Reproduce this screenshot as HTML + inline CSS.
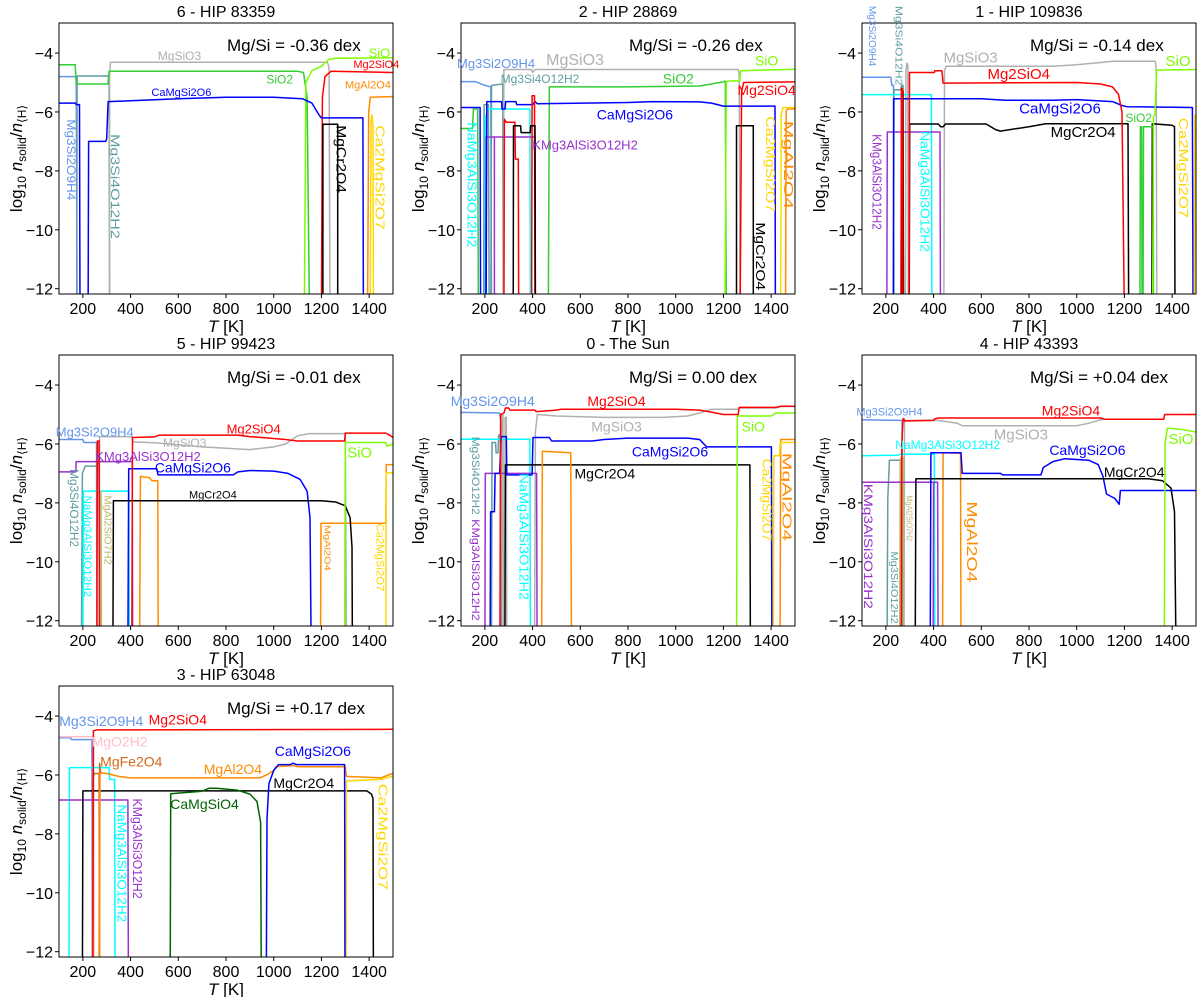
<!DOCTYPE html>
<html><head><meta charset="utf-8"><style>
body{margin:0;background:#fff;}
svg{display:block;font-family:"Liberation Sans","DejaVu Sans",sans-serif;}
</style></head><body>
<svg id="fig" width="1200" height="997" viewBox="0 0 1200 997" xmlns="http://www.w3.org/2000/svg"></svg>
<script>
const xTicks=[200,400,600,800,1000,1200,1400];
const yTicks=[-4,-6,-8,-10,-12];
const C={MS2:"#6495ED",MS4:"#5F9EA0",MSO3:"#b0b0b0",SIO2:"#32CD32",SIO:"#7CFC00",M2S:"#ff0000",CMS:"#0000ff",MCR:"#000000",MAL:"#FF8C00",CA2:"#FFD700",NA:"#00ffff",K:"#9932CC",MASH:"#BDB76B",MOH:"#FFC0CB",MFE:"#D2691E",CMSO4:"#006400"};

// ---- panel 6 - HIP 83359
const p6_MgSiO3=[[312,-13],[312,-4.78],[316,-4.31],[1225,-4.31],[1232,-4.5],[1236,-13]];
const p6_Mg3Si2O9H4=[[100,-4.8],[172,-4.8],[176,-13]];
const p6_Mg3Si4O12H2=[[174,-13],[176,-4.78],[310,-4.78],[312,-13]];
const p6_SiO2=[[100,-4.4],[168,-4.4],[172,-5.05],[305,-5.05],[310,-4.62],[1100,-4.62],[1125,-4.66],[1140,-5.5],[1150,-13]];
const p6_SiO=[[1128,-13],[1135,-5.0],[1160,-4.6],[1200,-4.45],[1230,-4.22],[1260,-4.18],[1500,-4.16]];
const p6_Mg2SiO4=[[1200,-13],[1204,-5.5],[1215,-4.8],[1240,-4.62],[1500,-4.66]];
const p6_CaMgSi2O6=[[100,-5.7],[170,-5.7],[172,-5.75],[186,-5.75],[188,-13],null,[222,-13],[224,-7.0],[296,-7.0],[300,-6.9],[306,-5.65],[400,-5.62],[600,-5.55],[800,-5.5],[1000,-5.5],[1120,-5.55],[1160,-5.7],[1190,-6.1],[1200,-6.2],[1374,-6.2],[1376,-13]];
const p6_MgCr2O4=[[1206,-13],[1206,-6.42],[1268,-6.42],[1268,-13]];
const p6_MgAl2O4=[[1393,-13],[1398,-6.0],[1405,-5.5],[1500,-5.48]];
const p6_Ca2MgSi2O7=[[1404,-13],[1408,-6.3],[1412,-6.1],[1416,-6.5],[1418,-13]];
const p6_labels=[["MgSiO3",C.MSO3,605,-4.1,12],["SiO",C.SIO,1443,-4.0,13],["Mg2SiO4",C.M2S,1430,-4.4,11],["SiO2",C.SIO2,1025,-4.9,12],["CaMgSi2O6",C.CMS,613,-5.35,11],["MgAl2O4",C.MAL,1395,-5.1,11]];
const p6_rlabels=[["Mg3Si2O9H4",C.MS2,148,-6.25,-9.0,13],["Mg3Si4O12H2",C.MS4,333,-6.75,-10.3,13],["MgCr2O4",C.MCR,1283,-6.45,-8.75,15],["Ca2MgSi2O7",C.CA2,1443,-6.45,-10.0,14]];

// ---- panel 2 - HIP 28869
const p2_Mg3Si2O9H4=[[100,-4.97],[160,-4.97],[200,-5.1],[225,-5.15],[228,-13]];
const p2_Mg3Si4O12H2=[[195,-13],[197,-5.75],[215,-5.75],[218,-13],null,[225,-13],[228,-5.1],[275,-5.05],[277,-13]];
const p2_MgSiO3=[[277,-13],[280,-4.56],[395,-4.56],[400,-4.65],[410,-4.56],[1262,-4.56],[1266,-4.7],[1270,-13]];
const p2_SiO2=[[100,-6.56],[148,-6.56],[152,-5.9],[170,-5.9],[173,-13],null,[466,-13],[470,-5.15],[800,-5.15],[1100,-5.12],[1200,-4.98],[1208,-4.95],[1212,-13]];
const p2_SiO=[[1206,-13],[1212,-5.0],[1220,-4.95],[1268,-4.95],[1272,-4.6],[1500,-4.55]];
const p2_Mg2SiO4=[[280,-13],[282,-6.25],[290,-6.35],[326,-6.35],[328,-7.6],[340,-7.6],[342,-13],null,[396,-13],[398,-5.45],[408,-5.45],[410,-13],null,[1270,-13],[1276,-5.3],[1285,-5.0],[1500,-4.98]];
const p2_CaMgSi2O6=[[100,-5.85],[180,-5.85],[182,-13],null,[205,-13],[208,-5.65],[270,-5.65],[272,-5.9],[285,-5.9],[287,-5.65],[330,-5.65],[333,-5.75],[400,-5.75],[410,-5.65],[420,-5.72],[800,-5.68],[900,-5.65],[1100,-5.66],[1150,-5.7],[1200,-5.8],[1416,-5.8],[1418,-13]];
const p2_NaMg=[[200,-13],[202,-6.2],[212,-5.9],[389,-5.9],[391,-13]];
const p2_KMg=[[203,-13],[205,-6.85],[410,-6.85],[412,-13],null,[240,-13],[240,-6.85]];
const p2_MgCr2O4=[[319,-13],[320,-6.47],[350,-6.47],[352,-6.7],[390,-6.7],[392,-6.47],[410,-6.47],[412,-13],null,[1255,-13],[1255,-6.47],[1325,-6.47],[1325,-13]];
const p2_Ca2MgSi2O7=[[1440,-13],[1442,-6.1],[1450,-5.85],[1500,-5.85]];
const p2_MgAl2O4=[[1460,-13],[1463,-5.95],[1470,-5.9],[1500,-5.9]];
const p2_labels=[["Mg3Si2O9H4",C.MS2,247,-4.36,13],["MgSiO3",C.MSO3,578,-4.25,16],["Mg3Si4O12H2",C.MS4,431,-4.88,12],["SiO2",C.SIO2,1011,-4.87,14],["SiO",C.SIO,1381,-4.25,14],["Mg2SiO4",C.M2S,1381,-5.25,14],["CaMgSi2O6",C.CMS,829,-6.08,14],["KMg3AlSi3O12H2",C.K,620,-7.13,13]];
const p2_rlabels=[["NaMg3AlSi3O12H2",C.NA,145,-6.35,-10.6,14],["MgCr2O4",C.MCR,1353,-9.75,-12.05,14],["Ca2MgSi2O7",C.CA2,1395,-6.15,-9.4,14],["MgAl2O4",C.MAL,1471,-6.3,-9.3,14]];

// ---- panel 1 - HIP 109836
const p1_Mg3Si2O9H4=[[100,-4.82],[221,-4.82],[225,-5.1],[232,-5.1],[234,-13]];
const p1_Mg3Si4O12H2=[[232,-13],[234,-5.25],[262,-5.25],[266,-5.1],[272,-5.1],[274,-13]];
const p1_MgSiO3=[[282,-13],[284,-4.6],[288,-4.34],[292,-4.4],[294,-13],null,[443,-13],[446,-4.6],[452,-4.45],[900,-4.45],[1000,-4.4],[1100,-4.32],[1150,-4.28],[1330,-4.28],[1333,-4.6],[1336,-13]];
const p1_Mg2SiO4=[[263,-13],[265,-5.2],[270,-5.2],[272,-13],null,[297,-13],[299,-4.66],[403,-4.66],[405,-4.6],[435,-4.6],[440,-5.02],[1000,-5.0],[1100,-5.05],[1150,-5.15],[1175,-5.4],[1190,-6.0],[1200,-13]];
const p1_CaMgSi2O6=[[231,-13],[233,-5.55],[600,-5.55],[700,-5.6],[900,-5.6],[1000,-5.58],[1150,-5.65],[1190,-5.78],[1210,-5.82],[1485,-5.85],[1488,-13]];
const p1_MgCr2O4=[[268,-13],[268,-5.3],[272,-5.3],[274,-13],null,[298,-13],[300,-6.41],[420,-6.41],[430,-6.5],[440,-6.5],[450,-6.41],[620,-6.41],[660,-6.6],[680,-6.65],[800,-6.5],[870,-6.4],[1215,-6.4],[1218,-13],null,[1315,-13],[1317,-6.4],[1400,-6.45],[1410,-6.5],[1412,-13]];
const p1_SiO2=[[1265,-13],[1267,-6.5],[1272,-6.5],[1274,-13],null,[1278,-13],[1280,-6.5],[1320,-6.5],[1322,-13]];
const p1_SiO=[[1318,-13],[1322,-6.15],[1328,-6.1],[1335,-4.58],[1500,-4.56]];
const p1_Ca2MgSi2O7=[[1493,-13],[1495,-6.1],[1500,-6.1]];
const p1_NaMg=[[100,-5.41],[391,-5.41],[393,-13]];
const p1_KMg=[[204,-13],[206,-6.68],[427,-6.68],[429,-13]];
const p1_labels=[["MgSiO3",C.MSO3,555,-4.17,15],["Mg2SiO4",C.M2S,757,-4.72,15],["CaMgSi2O6",C.CMS,930,-5.9,15],["MgCr2O4",C.MCR,1027,-6.7,15],["SiO2",C.SIO2,1260,-6.2,12],["SiO",C.SIO,1425,-4.28,15]];
const p1_rlabels=[["Mg3Si2O9H4",C.MS2,140,-2.4,-4.45,11],["Mg3Si4O12H2",C.MS4,250,-2.4,-5.1,11],["KMg3AlSi3O12H2",C.K,160,-6.75,-10.0,14],["NaMg3AlSi3O12H2",C.NA,361,-6.65,-10.75,14],["Ca2MgSi2O7",C.CA2,1445,-6.2,-9.6,14]];

// ---- panel 5 - HIP 99423
const p5_Mg3Si2O9H4=[[100,-5.85],[200,-5.85],[205,-5.95],[257,-5.95],[259,-13]];
const p5_Mg2SiO4=[[259,-13],[261,-5.9],[268,-5.9],[270,-13],null,[405,-13],[408,-5.78],[500,-5.76],[520,-5.7],[850,-5.7],[900,-5.75],[1050,-5.85],[1100,-5.9],[1297,-5.9],[1300,-5.63],[1470,-5.63],[1490,-5.72],[1500,-5.78]];
const p5_MgSiO3=[[268,-13],[270,-5.75],[405,-5.75],[410,-5.93],[500,-5.96],[700,-6.1],[900,-6.19],[1000,-6.1],[1050,-6.0],[1100,-5.72],[1150,-5.65],[1300,-5.65],[1305,-13]];
const p5_SiO=[[1297,-13],[1300,-5.95],[1470,-5.95],[1475,-6.08],[1500,-6.0]];
const p5_CaMgSi2O6=[[389,-13],[392,-6.84],[510,-6.84],[515,-7.05],[830,-7.05],[850,-6.95],[900,-6.9],[1000,-6.92],[1060,-7.0],[1110,-7.2],[1140,-7.6],[1152,-8.5],[1157,-13]];
const p5_MgCr2O4=[[326,-13],[328,-7.93],[1200,-7.93],[1260,-7.97],[1300,-8.1],[1320,-8.5],[1328,-9.5],[1330,-13]];
const p5_KMg=[[100,-6.95],[170,-6.95],[172,-6.6],[407,-6.6],[409,-13]];
const p5_Mg3Si4O12H2=[[194,-13],[198,-7.0],[210,-6.75],[258,-6.75],[262,-6.4],[268,-6.4],[270,-13]];
const p5_NaMg=[[200,-13],[202,-7.6],[393,-7.6],[395,-13]];
const p5_MgAl2SiO7H2=[[268,-13],[270,-7.6],[276,-7.6],[278,-13]];
const p5_MgAl2O4=[[438,-13],[441,-7.1],[480,-7.15],[490,-7.25],[514,-7.25],[516,-13],null,[1196,-13],[1198,-8.69],[1470,-8.69],[1472,-6.7],[1500,-6.7]];
const p5_Ca2MgSi2O7=[[1470,-13],[1472,-6.98],[1500,-6.98]];
const p5_labels=[["Mg3Si2O9H4",C.MS2,250,-5.6,13],["Mg2SiO4",C.M2S,916,-5.5,13],["MgSiO3",C.MSO3,627,-5.97,12],["SiO",C.SIO,1360,-6.3,15],["KMg3AlSi3O12H2",C.K,473,-6.42,13],["CaMgSi2O6",C.CMS,661,-6.8,14],["MgCr2O4",C.MCR,745,-7.75,11]];
const p5_rlabels=[["Mg3Si4O12H2",C.MS4,161,-6.85,-9.5,13],["NaMg3AlSi3O12H2",C.NA,217,-7.75,-11.2,12],["MgAl2SiO7H2",C.MASH,301,-7.75,-10.1,11],["MgAl2O4",C.MAL,1224,-8.75,-10.3,9],["Ca2MgSi2O7",C.CA2,1443,-8.7,-11.0,12]];

// ---- panel 0 - The Sun
const p0_Mg3Si2O9H4=[[100,-4.93],[262,-4.95],[268,-5.3],[270,-13]];
const p0_Mg2SiO4=[[263,-13],[266,-5.0],[280,-4.95],[286,-4.78],[300,-4.78],[305,-4.85],[410,-4.85],[415,-4.9],[500,-4.85],[520,-4.82],[1000,-4.82],[1100,-4.85],[1150,-4.92],[1200,-5.0],[1262,-5.0],[1266,-4.76],[1420,-4.76],[1440,-4.72],[1500,-4.72]];
const p0_MgSiO3=[[270,-13],[272,-5.0],[276,-5.0],[278,-13],null,[283,-13],[285,-5.1],[290,-5.1],[292,-13],null,[408,-13],[412,-5.6],[420,-5.0],[500,-5.05],[700,-5.1],[950,-5.1],[1050,-5.05],[1100,-4.95],[1150,-4.82],[1262,-4.82],[1266,-4.78],[1420,-4.78],[1440,-4.73],[1500,-4.73]];
const p0_SiO=[[1255,-13],[1258,-5.05],[1400,-5.05],[1420,-4.95],[1500,-4.95]];
const p0_CaMgSi2O6=[[222,-13],[224,-8.3],[240,-8.3],[243,-7.0],[262,-7.0],[268,-5.75],[290,-5.75],[292,-7.05],[398,-7.05],[402,-5.78],[470,-5.78],[480,-5.9],[650,-5.9],[700,-5.85],[800,-5.8],[1050,-5.8],[1100,-5.85],[1130,-6.1],[1401,-6.1],[1403,-13]];
const p0_MgCr2O4=[[284,-13],[286,-6.71],[1311,-6.71],[1313,-13]];
const p0_NaMg=[[100,-5.84],[389,-5.84],[391,-13]];
const p0_KMg=[[200,-13],[202,-7.0],[417,-7.0],[419,-13]];
const p0_Mg3Si4O12H2=[[228,-13],[230,-5.95],[245,-5.95],[247,-6.3],[255,-6.3],[258,-5.7],[265,-5.7],[268,-13]];
const p0_MgAl2O4=[[438,-13],[441,-6.25],[560,-6.3],[563,-13],null,[1437,-13],[1440,-5.85],[1500,-5.85]];
const p0_Ca2MgSi2O7=[[1409,-13],[1411,-6.4],[1435,-6.4],[1438,-5.95],[1500,-5.95]];
const p0_labels=[["Mg3Si2O9H4",C.MS2,233,-4.55,14],["Mg2SiO4",C.M2S,752,-4.55,14],["MgSiO3",C.MSO3,752,-5.4,14],["SiO",C.SIO,1325,-5.4,14],["CaMgSi2O6",C.CMS,976,-6.25,14],["MgCr2O4",C.MCR,703,-7.0,14]];
const p0_rlabels=[["Mg3Si4O12H2",C.MS4,159,-5.75,-8.4,12],["KMg3AlSi3O12H2",C.K,159,-8.55,-12.0,12],["NaMg3AlSi3O12H2",C.NA,361,-7.0,-11.3,14],["Ca2MgSi2O7",C.CA2,1381,-6.5,-9.3,14],["MgAl2O4",C.MAL,1465,-6.3,-9.3,14]];

// ---- panel 4 - HIP 43393
const p4_Mg3Si2O9H4=[[100,-5.18],[268,-5.2],[270,-13]];
const p4_Mg2SiO4=[[265,-13],[267,-6.0],[272,-5.15],[276,-5.15],[278,-5.22],[400,-5.2],[405,-5.15],[420,-5.12],[1100,-5.12],[1115,-5.16],[1365,-5.16],[1369,-5.0],[1500,-5.0]];
const p4_MgSiO3=[[276,-13],[278,-5.2],[400,-5.2],[420,-5.2],[500,-5.3],[520,-5.38],[1000,-5.38],[1050,-5.3],[1100,-5.18],[1115,-5.16]];
const p4_SiO=[[1367,-13],[1370,-6.0],[1380,-5.46],[1450,-5.52],[1500,-5.6]];
const p4_NaMg=[[100,-6.4],[250,-6.38],[260,-6.35],[403,-6.35],[405,-13]];
const p4_CaMgSi2O6=[[386,-13],[389,-6.3],[515,-6.3],[520,-7.0],[680,-7.0],[690,-7.05],[850,-7.05],[860,-6.8],[900,-6.6],[950,-6.5],[1050,-6.55],[1090,-6.7],[1110,-7.1],[1125,-7.7],[1160,-7.85],[1178,-8.05],[1183,-7.58],[1500,-7.58]];
const p4_MgCr2O4=[[323,-13],[326,-7.18],[1300,-7.18],[1360,-7.25],[1395,-7.5],[1410,-8.3],[1416,-13]];
const p4_KMg=[[100,-7.3],[417,-7.3],[419,-13],null,[398,-13],[400,-7.3]];
const p4_Mg3Si4O12H2=[[205,-13],[208,-7.85],[215,-6.55],[260,-6.55],[262,-13]];
const p4_MgAl2SiO7H2=[[258,-13],[260,-6.5],[272,-6.45],[274,-13]];
const p4_MgAl2O4=[[438,-13],[440,-6.3],[513,-6.32],[515,-13]];
const p4_labels=[["Mg3Si2O9H4",C.MS2,215,-4.93,11],["Mg2SiO4",C.M2S,976,-4.87,14],["MgSiO3",C.MSO3,766,-5.7,15],["SiO",C.SIO,1437,-5.85,15],["NaMg3AlSi3O12H2",C.NA,459,-6.03,12],["CaMgSi2O6",C.CMS,1045,-6.2,14],["MgCr2O4",C.MCR,1241,-6.95,14]];
const p4_rlabels=[["KMg3AlSi3O12H2",C.K,124,-7.35,-11.6,13],["Mg3Si4O12H2",C.MS4,233,-9.65,-12.1,11],["MgAl2SiO7H2",C.MASH,298,-7.75,-9.3,9],["MgAl2O4",C.MAL,557,-7.95,-10.7,16]];

// ---- panel 3 - HIP 63048
const p3_Mg3Si2O9H4=[[100,-4.74],[150,-4.74],[152,-4.8],[238,-4.8],[240,-13]];
const p3_MgO2H2=[[100,-4.7],[245,-4.7],[247,-13]];
const p3_Mg2SiO4=[[242,-13],[244,-4.5],[260,-4.47],[1500,-4.45]];
const p3_MgFe2O4=[[240,-13],[242,-6.15],[248,-5.95],[268,-5.95],[270,-13],null,[268,-13],[270,-5.6],[275,-5.95]];
const p3_MgAl2O4=[[270,-13],[272,-5.92],[300,-5.95],[350,-6.05],[400,-6.1],[940,-6.1],[970,-6.0],[1000,-5.85],[1010,-5.72],[1080,-5.68],[1100,-5.72],[1300,-5.72],[1305,-6.05],[1450,-6.1],[1480,-6.0],[1500,-5.95]];
const p3_Ca2MgSi2O7=[[1303,-13],[1305,-6.2],[1450,-6.15],[1480,-6.08],[1500,-6.05]];
const p3_CaMgSi2O6=[[969,-13],[972,-7.5],[980,-6.3],[1000,-5.85],[1020,-5.65],[1070,-5.65],[1080,-5.6],[1095,-5.65],[1297,-5.65],[1299,-13]];
const p3_CaMgSiO4=[[566,-13],[568,-6.64],[700,-6.55],[730,-6.45],[760,-6.45],[850,-6.52],[900,-6.65],[930,-6.9],[945,-7.6],[948,-13]];
const p3_MgCr2O4=[[198,-13],[200,-6.54],[1390,-6.54],[1410,-6.65],[1416,-6.8],[1418,-13]];
const p3_NaMg=[[142,-13],[144,-5.75],[310,-5.75],[312,-6.15],[333,-6.15],[335,-13]];
const p3_KMg=[[100,-6.85],[389,-6.85],[391,-13]];
const p3_labels=[["Mg3Si2O9H4",C.MS2,277,-4.16,14],["Mg2SiO4",C.M2S,598,-4.11,14],["MgO2H2",C.MOH,354,-4.87,14],["MgFe2O4",C.MFE,403,-5.55,14],["MgAl2O4",C.MAL,829,-5.8,14],["CaMgSi2O6",C.CMS,1164,-5.18,14],["MgCr2O4",C.MCR,1126,-6.28,14],["CaMgSiO4",C.CMSO4,710,-6.98,14]];
const p3_rlabels=[["NaMg3AlSi3O12H2",C.NA,361,-7.0,-11.0,14],["KMg3AlSi3O12H2",C.K,427,-6.8,-10.2,14],["Ca2MgSi2O7",C.CA2,1457,-6.3,-9.9,14]];

const panels=[
 {id:"hip-83359",title:"6 - HIP 83359",ratio:"Mg/Si = -0.36 dex",col:0,row:0,labels:p6_labels,rlabels:p6_rlabels,series:[
  ["mg3si2o9h4",C.MS2,p6_Mg3Si2O9H4],["mg3si4o12h2",C.MS4,p6_Mg3Si4O12H2],["mgsio3",C.MSO3,p6_MgSiO3],["sio2",C.SIO2,p6_SiO2],["sio",C.SIO,p6_SiO],["mg2sio4",C.M2S,p6_Mg2SiO4],["camgsi2o6",C.CMS,p6_CaMgSi2O6],["mgcr2o4",C.MCR,p6_MgCr2O4],["mgal2o4",C.MAL,p6_MgAl2O4],["ca2mgsi2o7",C.CA2,p6_Ca2MgSi2O7]]},
 {id:"hip-28869",title:"2 - HIP 28869",ratio:"Mg/Si = -0.26 dex",col:1,row:0,labels:p2_labels,rlabels:p2_rlabels,series:[
  ["mg3si2o9h4",C.MS2,p2_Mg3Si2O9H4],["mg3si4o12h2",C.MS4,p2_Mg3Si4O12H2],["mgsio3",C.MSO3,p2_MgSiO3],["sio2",C.SIO2,p2_SiO2],["sio",C.SIO,p2_SiO],["na-mg3alsi3o12h2",C.NA,p2_NaMg],["k-mg3alsi3o12h2",C.K,p2_KMg],["camgsi2o6",C.CMS,p2_CaMgSi2O6],["mg2sio4",C.M2S,p2_Mg2SiO4],["mgcr2o4",C.MCR,p2_MgCr2O4],["ca2mgsi2o7",C.CA2,p2_Ca2MgSi2O7],["mgal2o4",C.MAL,p2_MgAl2O4]]},
 {id:"hip-109836",title:"1 - HIP 109836",ratio:"Mg/Si = -0.14 dex",col:2,row:0,labels:p1_labels,rlabels:p1_rlabels,series:[
  ["mg3si2o9h4",C.MS2,p1_Mg3Si2O9H4],["mg3si4o12h2",C.MS4,p1_Mg3Si4O12H2],["mgsio3",C.MSO3,p1_MgSiO3],["na-mg3alsi3o12h2",C.NA,p1_NaMg],["k-mg3alsi3o12h2",C.K,p1_KMg],["camgsi2o6",C.CMS,p1_CaMgSi2O6],["mgcr2o4",C.MCR,p1_MgCr2O4],["mg2sio4",C.M2S,p1_Mg2SiO4],["sio2",C.SIO2,p1_SiO2],["sio",C.SIO,p1_SiO],["ca2mgsi2o7",C.CA2,p1_Ca2MgSi2O7]]},
 {id:"hip-99423",title:"5 - HIP 99423",ratio:"Mg/Si = -0.01 dex",col:0,row:1,labels:p5_labels,rlabels:p5_rlabels,series:[
  ["mg3si2o9h4",C.MS2,p5_Mg3Si2O9H4],["mgsio3",C.MSO3,p5_MgSiO3],["mg3si4o12h2",C.MS4,p5_Mg3Si4O12H2],["na-mg3alsi3o12h2",C.NA,p5_NaMg],["mgal2sio7h2",C.MASH,p5_MgAl2SiO7H2],["k-mg3alsi3o12h2",C.K,p5_KMg],["mgal2o4",C.MAL,p5_MgAl2O4],["camgsi2o6",C.CMS,p5_CaMgSi2O6],["mgcr2o4",C.MCR,p5_MgCr2O4],["sio",C.SIO,p5_SiO],["ca2mgsi2o7",C.CA2,p5_Ca2MgSi2O7],["mg2sio4",C.M2S,p5_Mg2SiO4]]},
 {id:"the-sun",title:"0 - The Sun",ratio:"Mg/Si = 0.00 dex",col:1,row:1,labels:p0_labels,rlabels:p0_rlabels,series:[
  ["mg3si2o9h4",C.MS2,p0_Mg3Si2O9H4],["mgsio3",C.MSO3,p0_MgSiO3],["mg3si4o12h2",C.MS4,p0_Mg3Si4O12H2],["na-mg3alsi3o12h2",C.NA,p0_NaMg],["k-mg3alsi3o12h2",C.K,p0_KMg],["camgsi2o6",C.CMS,p0_CaMgSi2O6],["mgcr2o4",C.MCR,p0_MgCr2O4],["mgal2o4",C.MAL,p0_MgAl2O4],["sio",C.SIO,p0_SiO],["ca2mgsi2o7",C.CA2,p0_Ca2MgSi2O7],["mg2sio4",C.M2S,p0_Mg2SiO4]]},
 {id:"hip-43393",title:"4 - HIP 43393",ratio:"Mg/Si = +0.04 dex",col:2,row:1,labels:p4_labels,rlabels:p4_rlabels,series:[
  ["mg3si2o9h4",C.MS2,p4_Mg3Si2O9H4],["mgsio3",C.MSO3,p4_MgSiO3],["mg3si4o12h2",C.MS4,p4_Mg3Si4O12H2],["mgal2sio7h2",C.MASH,p4_MgAl2SiO7H2],["na-mg3alsi3o12h2",C.NA,p4_NaMg],["k-mg3alsi3o12h2",C.K,p4_KMg],["mgal2o4",C.MAL,p4_MgAl2O4],["camgsi2o6",C.CMS,p4_CaMgSi2O6],["mgcr2o4",C.MCR,p4_MgCr2O4],["sio",C.SIO,p4_SiO],["mg2sio4",C.M2S,p4_Mg2SiO4]]},
 {id:"hip-63048",title:"3 - HIP 63048",ratio:"Mg/Si = +0.17 dex",col:0,row:2,labels:p3_labels,rlabels:p3_rlabels,series:[
  ["mg3si2o9h4",C.MS2,p3_Mg3Si2O9H4],["mgo2h2",C.MOH,p3_MgO2H2],["na-mg3alsi3o12h2",C.NA,p3_NaMg],["k-mg3alsi3o12h2",C.K,p3_KMg],["mgcr2o4",C.MCR,p3_MgCr2O4],["mgfe2o4",C.MFE,p3_MgFe2O4],["camgsio4",C.CMSO4,p3_CaMgSiO4],["ca2mgsi2o7",C.CA2,p3_Ca2MgSi2O7],["mgal2o4",C.MAL,p3_MgAl2O4],["camgsi2o6",C.CMS,p3_CaMgSi2O6],["mg2sio4",C.M2S,p3_Mg2SiO4]]}
];

const NS="http://www.w3.org/2000/svg";
const svg=document.getElementById('fig');
const COLX=[59,461,862], ROWY=[23,355,686], W=334, H=271, XMIN=100, XMAX=1500, YMAX=-2.98, YMIN=-12.18;
function mk(tag,attrs,parent){const e=document.createElementNS(NS,tag);for(const k in attrs)e.setAttribute(k,attrs[k]);(parent||svg).appendChild(e);return e;}

panels.forEach((p,pi)=>{
  const x0=COLX[p.col], y0=ROWY[p.row];
  const sx=T=>x0+(T-XMIN)/(XMAX-XMIN)*W;
  const sy=v=>y0+(YMAX-v)/(YMAX-YMIN)*H;
  const g=mk('g',{});
  
  
  const cp=mk('clipPath',{id:'clip'+pi},g);
  mk('rect',{x:x0,y:y0,width:W,height:H},cp);
  const sg=mk('g',{'clip-path':'url(#clip'+pi+')'},g);
  
  
  p.series.forEach(s=>{
    let d='',start=true;
    s[2].forEach(pt=>{ if(pt===null){start=true;return;} d+=(start?'M':'L')+sx(pt[0]).toFixed(1)+','+sy(pt[1]).toFixed(1); start=false; });
    const path=mk('path',{d:d,fill:'none',stroke:s[1],'stroke-width':1.5,'stroke-linejoin':'round'},sg);
    
    
  });
  const fr=mk('rect',{x:x0,y:y0,width:W,height:H,fill:'none',stroke:'#000','stroke-width':1},g);
  
  
  xTicks.forEach(t=>{
    const x=sx(t);
    mk('line',{x1:x,y1:y0+H,x2:x,y2:y0+H+4,stroke:'#000','stroke-width':1},g);
    const tl=mk('text',{x:x,y:y0+H+20,'font-size':16,'text-anchor':'middle',fill:'#000'},g);
    tl.textContent=t;
    
    
  });
  yTicks.forEach(t=>{
    const y=sy(t);
    mk('line',{x1:x0-4,y1:y,x2:x0,y2:y,stroke:'#000','stroke-width':1},g);
    const tl=mk('text',{x:x0-6,y:y+6,'font-size':16,'text-anchor':'end',fill:'#000'},g);
    tl.textContent='\u2212'+Math.abs(t);
    
    
  });
  const xt=mk('text',{x:x0+W/2,y:y0+H+38,'font-size':17,'text-anchor':'middle',fill:'#000'},g);
  xt.innerHTML='<tspan font-style="italic">T</tspan> [K]';
  
  
  const yt=mk('text',{transform:'translate('+(x0-37)+','+(y0+H/2)+') rotate(-90)','font-size':17,'text-anchor':'middle',fill:'#000'},g);
  yt.innerHTML='log<tspan font-size="12" dy="4">10</tspan><tspan dy="-4"> </tspan><tspan font-style="italic">n</tspan><tspan font-size="12" dy="4">solid</tspan><tspan dy="-4">/</tspan><tspan font-style="italic">n</tspan><tspan font-size="12" dy="4">⟨H⟩</tspan>';
  
  
  const ti=mk('text',{x:x0+W/2,y:y0-6,'font-size':16,'text-anchor':'middle',fill:'#000'},g);
  ti.textContent=p.title;
  
  
  const ra=mk('text',{x:x0+168,y:y0+28,'font-size':17,fill:'#000'},g);
  ra.textContent=p.ratio;
  
  
  p.labels.forEach(l=>{
    const t=mk('text',{x:sx(l[2]),y:sy(l[3]),'font-size':l[4],'text-anchor':'middle','dominant-baseline':'central',fill:l[1]},g);
    t.textContent=l[0];
    
    
  });
  p.rlabels.forEach(l=>{
    const x=sx(l[2]), ya=sy(l[3]), yb=sy(l[4]);
    const t=mk('text',{x:0,y:0,transform:'translate('+x.toFixed(1)+','+ya.toFixed(1)+') rotate(90)','font-size':(l[5]*0.9).toFixed(1),'dominant-baseline':'central',fill:l[1],textLength:(yb-ya).toFixed(1),lengthAdjust:'spacingAndGlyphs'},g);
    t.textContent=l[0];
    
    
  });
});
</script>
</body></html>
